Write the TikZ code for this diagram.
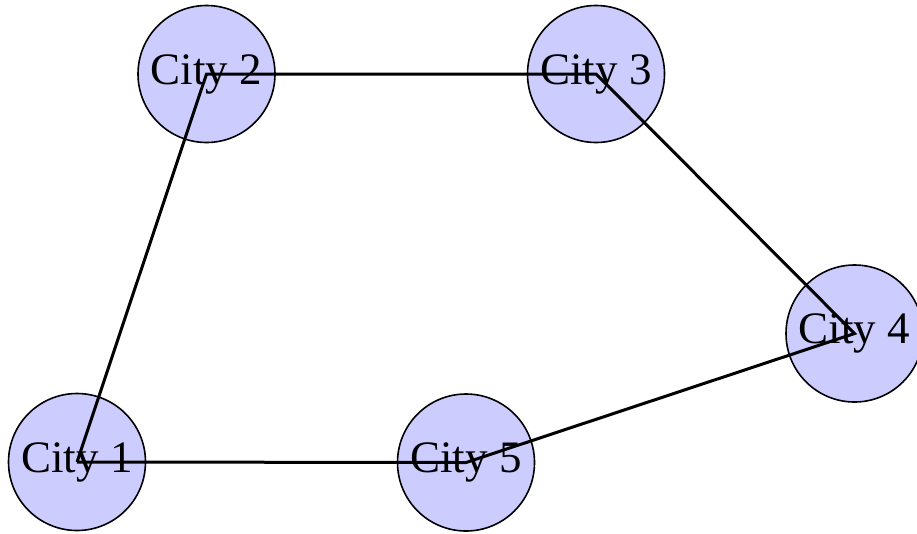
\documentclass[tikz,border=0pt]{standalone}
\usepackage{fontspec}
\setmainfont{Liberation Serif}
\definecolor{cityfill}{RGB}{204,204,255}
\begin{document}
\begin{tikzpicture}[x=1pt,y=-1pt,
  city/.style={circle, draw=black, line width=1.6pt, fill=cityfill,
    minimum size=137pt, inner sep=0pt, font=\fontsize{45}{45}\selectfont},
  route/.style={draw=black, line width=3pt}]
\useasboundingbox (0,0) rectangle (917,533);
\node[city] (c1) at (77,462)     {City 1};
\node[city] (c2) at (206.5,74)   {City 2};
\node[city] (c3) at (596,74)     {City 3};
\node[city] (c4) at (854.5,333.5){City 4};
\node[city] (c5) at (466,462.5)  {City 5};
\path[route] (c1.center) -- (c2.center) -- (c3.center) -- (c4.center) -- (c5.center) -- (c1.center);
\end{tikzpicture}
\end{document}
